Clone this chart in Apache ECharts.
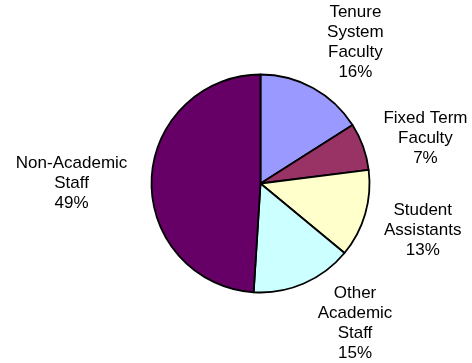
<!DOCTYPE html>
<html>
<head>
<meta charset="utf-8">
<script src="https://cdn.jsdelivr.net/npm/echarts@6/dist/echarts.min.js"></script>
<style>
  html, body { margin: 0; padding: 0; background: #ffffff; }
  #chart { width: 472px; height: 363px; }
</style>
</head>
<body>
<div id="chart"></div>
<script>
// Staff composition by employee group (percent of total headcount)
const categories = [
  'Tenure\nSystem\nFaculty',
  'Fixed Term\nFaculty',
  'Student\nAssistants',
  'Other\nAcademic\nStaff',
  'Non-Academic\nStaff'
];
const shares = [16, 7, 13, 15, 49];
const sliceColors = ['#9999FF', '#993366', '#FFFFCC', '#CCFFFF', '#660066'];

// Pie geometry and label placement
const pieCenter = [260.5, 183.5];
const pieRadius = 109;
const labelRadius = 170;
// per-label nudges [dx, dy] applied after the radial placement
const labelNudge = [[13, 8], [5, 12], [-1, -1], [27, -16], [-19, 5]];

const total = shares.reduce((a, b) => a + b, 0);
// mid-angle of each slice, clockwise from 12 o'clock (radians)
const midAngles = [];
let acc = 0;
shares.forEach(v => {
  midAngles.push(((acc + v / 2) / total) * 2 * Math.PI);
  acc += v;
});

const chart = echarts.init(document.getElementById('chart'), null, { renderer: 'canvas' });

chart.setOption({
  animation: false,
  backgroundColor: '#ffffff',
  series: [{
    type: 'pie',
    center: pieCenter,
    radius: pieRadius,
    startAngle: 90,
    clockwise: true,
    avoidLabelOverlap: false,
    data: categories.map((name, i) => ({
      name: name,
      value: shares[i],
      itemStyle: { color: sliceColors[i] }
    })),
    itemStyle: { borderColor: '#000000', borderWidth: 1.8 },
    label: {
      show: true,
      position: 'outside',
      color: '#000000',
      fontFamily: '"Liberation Sans", Arial, sans-serif',
      fontSize: 17,
      lineHeight: 20,
      align: 'center',
      formatter: p => p.name + '\n' + Math.round(p.value / total * 100) + '%'
    },
    labelLine: { show: false },
    emphasis: { disabled: true },
    labelLayout: function (params) {
      const i = params.dataIndex;
      const a = midAngles[i];
      return {
        x: pieCenter[0] + Math.sin(a) * labelRadius + labelNudge[i][0],
        y: pieCenter[1] - Math.cos(a) * labelRadius + labelNudge[i][1],
        align: 'center',
        verticalAlign: 'middle'
      };
    }
  }]
});
</script>
</body>
</html>
